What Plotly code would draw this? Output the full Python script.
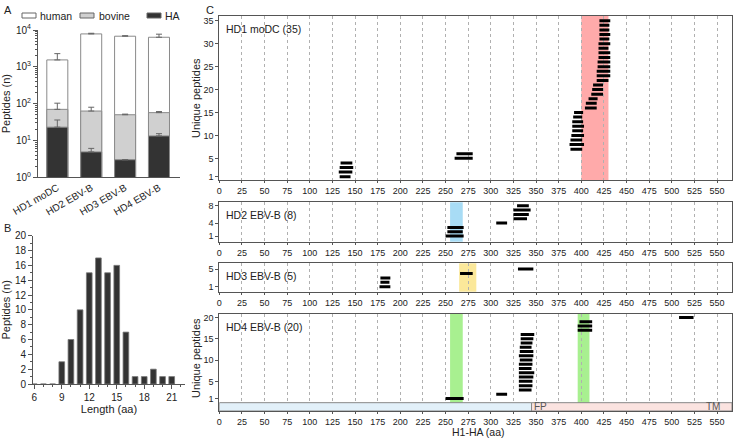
import plotly.graph_objects as go

W, H = 733, 439

# ---- panel A: peptide counts per donor (log scale)
donors = ["HD1 moDC", "HD2 EBV-B", "HD3 EBV-B", "HD4 EBV-B"]
human = [1540, 7830, 6780, 6350]
human_err = [2280, 8150, 7000, 7700]
bovine = [70, 63, 50, 57]
bovine_err = [103, 80, 52, 61]
ha = [23, 4.9, 3, 13.3]
ha_err = [36, 6.1, 3, 15.3]

# ---- panel B: length distribution
lengths = [6, 7, 8, 9, 10, 11, 12, 13, 14, 15, 16, 17, 18, 19, 20, 21]
length_counts = [0, 0, 0, 3, 6, 10, 15, 17, 15, 16, 7, 1, 1, 2, 1, 1]

# ---- panel C: peptide positions on H1-HA
hd1_start = [133, 132, 133, 134, 260, 262,
             388, 387, 388, 389, 390, 390, 390, 391, 392,
             404, 405, 408, 411, 412, 413,
             417, 417, 417, 418, 418, 419, 419, 419, 419, 420, 420, 420, 420, 420]
hd1_end = [145, 147, 148, 147, 280, 280,
           401, 403, 401, 403, 402, 403, 402, 401, 402,
           417, 417, 418, 424, 424, 424,
           430, 432, 432, 432, 432, 432, 432, 430, 432, 431, 432, 431, 431, 432]
hd2_start = [250, 252, 252, 306, 325, 325, 325, 329]
hd2_end = [270, 269, 270, 318, 340, 342, 344, 342]
hd3_start = [177, 178, 178, 266, 330]
hd3_end = [189, 188, 189, 280, 347]
hd4_start = [250, 306, 331, 331, 331, 331, 331, 331, 331, 332, 331, 332, 332, 333, 333, 333,
             396, 396, 398, 508]
hd4_end = [270, 318, 345, 346, 346, 347, 348, 345, 346, 346, 347, 347, 345, 346, 347, 348,
           412, 412, 412, 524]

panels = [
    ("HD1 moDC (35)", hd1_start, hd1_end, [1, 5, 10, 15, 20, 25, 30, 35], [0.28, 36.1],
     [0.5900, 0.9642], [(400, 430, "#ffaaaa")]),
    ("HD2 EBV-B (8)", hd2_start, hd2_end, [1, 4, 8], [-0.3, 8.8],
     [0.4494, 0.5392], [(255, 269, "#a8dcf5")]),
    ("HD3 EBV-B (5)", hd3_start, hd3_end, [1, 5], [-0.13, 6.3],
     [0.3355, 0.4002], [(265, 284, "#fbe89a")]),
    ("HD4 EBV-B (20)", hd4_start, hd4_end, [1, 5, 10, 15, 20], [-1.95, 20.8],
     [0.0638, 0.2847], [(255, 269, "#a8f090"), (396, 409, "#a8f090")]),
]

FONT = "Arial, Liberation Sans, sans-serif"
AX = "#555"

fig = go.Figure()

# panel A bars (overlaid, human tallest behind)
series_a = [("human", human, human_err, "white"),
            ("bovine", bovine, bovine_err, "#d0d0d0"),
            ("HA", ha, ha_err, "#333333")]
for name, vals, errs, col in series_a:
    fig.add_trace(go.Bar(
        x=donors, y=vals, name=name, width=0.62, showlegend=False,
        marker=dict(color=col, line=dict(color="#8a8a8a", width=1)),
        error_y=dict(type="data", symmetric=False,
                     array=[e - v for e, v in zip(errs, vals)],
                     arrayminus=[0] * len(vals), color="#666", thickness=1, width=3),
        xaxis="x", yaxis="y"))

# panel B
fig.add_trace(go.Bar(x=lengths, y=length_counts, width=0.62, showlegend=False,
                     marker=dict(color="#333333", line=dict(color="#777", width=0.8)),
                     xaxis="x2", yaxis="y2"))

# panel C peptide segments
for i, (label, st, en, tv, yr, dom, bands) in enumerate(panels):
    xs, ys = [], []
    for r, (a, b) in enumerate(zip(st, en), start=1):
        xs += [a, b, None]
        ys += [r, r, None]
    n = i + 3
    fig.add_trace(go.Scatter(x=xs, y=ys, mode="lines", showlegend=False,
                             line=dict(color="black", width=3),
                             xaxis=f"x{n}", yaxis=f"y{n}"))

layout = dict(
    template="none",
    width=W, height=H, margin=dict(l=0, r=0, t=0, b=0, autoexpand=False),
    paper_bgcolor="white", plot_bgcolor="white", showlegend=False,
    font=dict(family=FONT, size=10, color="#222"),
    barmode="overlay",
    xaxis=dict(domain=[38 / W, 180 / W], range=[-0.57, 3.62], showline=True, linecolor=AX,
               ticks="", tickangle=-30, tickfont=dict(size=10), showgrid=False,
               automargin=False, anchor="y"),
    yaxis=dict(domain=[1 - 177.3 / H, 1 - 30 / H], type="log", range=[0, 4], showline=True,
               linecolor=AX, ticks="outside", ticklen=4, tickcolor=AX, showgrid=False,
               tickvals=[1, 10, 100, 1000, 10000],
               ticktext=["10<sup>0</sup>", "10<sup>1</sup>", "10<sup>2</sup>",
                         "10<sup>3</sup>", "10<sup>4</sup>"],
               minor=dict(ticks="outside", ticklen=2, tickcolor=AX, showgrid=False,
                          tickvals=[m * 10 ** d for d in range(4) for m in range(2, 10)]),
               title=dict(text="Peptides (n)", font=dict(size=11), standoff=4),
               automargin=False, anchor="x"),
    xaxis2=dict(domain=[33 / W, 185 / W], range=[5.86, 22.45], showline=True, linecolor=AX,
                ticks="outside", ticklen=4, tickcolor=AX, tickvals=[6, 9, 12, 15, 18, 21],
                minor=dict(ticks="outside", ticklen=2, dtick=1, tickcolor=AX, showgrid=False),
                showgrid=False, zeroline=False,
                title=dict(text="Length (aa)", font=dict(size=11), standoff=2),
                automargin=False, anchor="y2"),
    yaxis2=dict(domain=[1 - 384 / H, 1 - 235.7 / H], range=[0, 20], showline=True,
                linecolor=AX, ticks="outside", ticklen=4, tickcolor=AX, dtick=2,
                minor=dict(ticks="outside", ticklen=2, dtick=1, tickcolor=AX, showgrid=False),
                showgrid=False, zeroline=False,
                title=dict(text="Peptides (n)", font=dict(size=11), standoff=4),
                automargin=False, anchor="x2"),
)

shapes, annots = [], []
for i, (label, st, en, tv, yr, dom, bands) in enumerate(panels):
    n = i + 3
    layout[f"xaxis{n}"] = dict(
        domain=[219.3 / W, 732 / W], range=[0, 566.5], showline=True, mirror=True,
        linecolor=AX, ticks="outside", ticklen=2, tickcolor=AX, dtick=25, tick0=0,
        showgrid=True, gridcolor="#b0b0b0", griddash="dot", gridwidth=1, zeroline=False,
        tickfont=dict(size=9), automargin=False, anchor=f"y{n}")
    layout[f"yaxis{n}"] = dict(
        domain=dom, range=yr, showline=True, mirror=True, linecolor=AX, ticks="outside",
        ticklen=3, tickcolor=AX, tickvals=tv, showgrid=False, zeroline=False,
        tickfont=dict(size=9), automargin=False, anchor=f"x{n}")
    for a, b, col in bands:
        shapes.append(dict(type="rect", xref=f"x{n}", yref=f"y{n} domain", x0=a, x1=b,
                           y0=0, y1=1, fillcolor=col, line=dict(width=0), layer="below"))
    annots.append(dict(text=label, xref=f"x{n}", yref=f"y{n} domain", x=5, y=1,
                       yshift=-5, xanchor="left", yanchor="top", showarrow=False,
                       font=dict(size=10.5)))

# HA domain bar under HD4
shapes.append(dict(type="rect", xref="x6", yref="y6", x0=0, x1=345, y0=-1.95, y1=0,
                   fillcolor="#e2f0f9", line=dict(color="#888", width=1), layer="above"))
shapes.append(dict(type="rect", xref="x6", yref="y6", x0=345, x1=566.5, y0=-1.95, y1=0,
                   fillcolor="#fbe3e0", line=dict(color="#888", width=1), layer="above"))
annots.append(dict(text="FP", xref="x6", yref="y6", x=346, y=-0.95, xanchor="left",
                   yanchor="middle", showarrow=False, font=dict(size=10, color="#555")))
annots.append(dict(text="TM", xref="x6", yref="y6", x=545, y=-0.95, xanchor="center",
                   yanchor="middle", showarrow=False, font=dict(size=10, color="#555")))

# manual legend for panel A
leg = [("human", 22, 38, "white"), ("bovine", 80, 97, "#d0d0d0"), ("HA", 147, 163, "#333333")]
for name, bx, tx, col in leg:
    shapes.append(dict(type="rect", xref="paper", yref="paper", x0=bx / W, x1=(bx + 14) / W,
                       y0=1 - 18 / H, y1=1 - 13 / H, fillcolor=col,
                       line=dict(color="#666", width=1)))
    annots.append(dict(text=name, xref="paper", yref="paper", x=tx / W, y=1 - 15.5 / H,
                       xanchor="left", yanchor="middle", showarrow=False,
                       font=dict(size=10.5)))


def paper_text(text, px, py, size=11, angle=0, xanchor="center"):
    return dict(text=text, xref="paper", yref="paper", x=px / W, y=1 - py / H,
                xanchor=xanchor, yanchor="middle", textangle=angle, showarrow=False,
                font=dict(size=size))


# axis titles and panel letters
annots += [
    paper_text("Unique peptides", 196, 98, angle=-90),
    paper_text("Unique peptides", 196, 358, angle=-90),
    paper_text("H1-HA (aa)", 478, 432, size=10.5),
    paper_text("A", 2, 10, xanchor="left"),
    paper_text("B", 2, 228, xanchor="left"),
    paper_text("C", 204, 10, xanchor="left"),
]
layout["shapes"] = shapes
layout["annotations"] = annots
fig.update_layout(**layout)

# the page body has a default margin; remove it so the figure sits at the corner
fig.write_html("out.html", config={"displayModeBar": False},
               post_script="document.body.style.margin='0';")
